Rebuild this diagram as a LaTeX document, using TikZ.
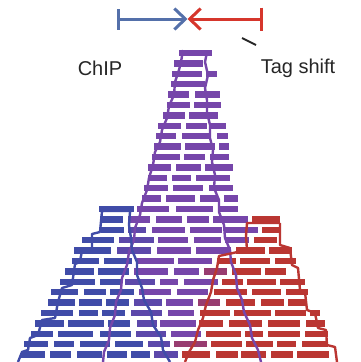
\documentclass[tikz,border=0pt]{standalone}
\usepackage{fontspec}
\setmainfont{Liberation Sans}
\usetikzlibrary{arrows.meta}
\definecolor{cblue}{RGB}{64,76,168}
\definecolor{cpurple}{RGB}{118,70,170}
\definecolor{cred}{RGB}{186,54,50}
\definecolor{cbp}{RGB}{92,72,170}
\definecolor{crp}{RGB}{152,60,112}
\definecolor{ablue}{RGB}{84,112,170}
\definecolor{ared}{RGB}{214,54,44}
\begin{document}
\begin{tikzpicture}[x=1pt,y=-1pt,
  lbl/.style={font=\fontsize{20}{24}\selectfont, text=black!85, inner sep=0pt},
  arr/.style={line width=3pt},
  edgeline/.style={line width=2.4pt, line join=round}]
\useasboundingbox (0,0) rectangle (360,362);
\fill[white] (0,0) rectangle (360,362);
% top arrows
\coordinate (bstart) at (117,19);
\coordinate (mid) at (187.5,19);
\coordinate (rstart) at (263,19);
\draw[arr, ablue, {Bar[width=21pt]}-{Straight Barb[length=11pt,width=21pt]}] (bstart) -- (mid);
\draw[arr, ared, {Straight Barb[length=11pt,width=21pt]}-{Bar[width=23pt]}] (mid) -- (rstart);
\coordinate (tk1) at (242,38);
\coordinate (tk2) at (256,45);
\draw[line width=1.8pt, black!85] (tk1) -- (tk2);
\node[lbl] (chip) at (100,68) {ChIP};
\node[lbl] (tag) at (298,68) {Tag shift};
% bars
\pgfmathsetseed{11}
\foreach \i in {0,...,29}{
  \pgfmathsetmacro{\yy}{53+10.4*\i}
  \pgfmathsetmacro{\pL}{178-0.25*(\yy-53)}
  \pgfmathsetmacro{\pR}{212+0.17*(\yy-53)}
  \pgfmathtruncatemacro{\bA}{\yy>205 ? 1 : 0}
  \pgfmathtruncatemacro{\rA}{\yy>218 ? 1 : 0}
  \pgfmathsetmacro{\bL}{\yy<232 ? 100 : 83-0.53*(\yy-236)}
  \pgfmathsetmacro{\bR}{132+0.26*(\yy-212)}
  \pgfmathsetmacro{\rL}{\yy<252 ? 247 : 217-0.33*(\yy-258)}
  \pgfmathsetmacro{\rR}{\yy<250 ? 280 : 290+0.45*(\yy-250)}
  \pgfmathsetmacro{\uL}{\bA==1 ? min(\pL,\bL) : \pL}
  \pgfmathsetmacro{\uR}{\rA==1 ? max(\pR,\rR) : \pR}
  \pgfmathsetmacro{\xx}{\uL-2+4*rnd}
  \loop
    \pgfmathsetmacro{\blen}{18+20*rnd}
    \pgfmathsetmacro{\xe}{min(\xx+\blen,\uR-1+3*rnd)}
    \pgfmathsetmacro{\xc}{(\xx+\xe)/2}
    \pgfmathtruncatemacro{\inB}{\bA*(\xc>\bL-2)*(\xc<\bR+2)}
    \pgfmathtruncatemacro{\inP}{(\xc>\pL-3)*(\xc<\pR+3)}
    \pgfmathtruncatemacro{\inR}{\rA*(\xc>\rL-2)*(\xc<\rR+2)}
    \pgfmathtruncatemacro{\isR}{\inR*max(1-\inP,\xc>\rL+8)}
    \pgfmathtruncatemacro{\isB}{\inB*max(1-\inP,\xc<\bR-15)}
    \pgfmathtruncatemacro{\cidx}{\isR==1 ? 3 : (\isB==1 ? 1 : (\inP==1 ? (\inB==1 ? 4 : (\inR==1 ? 5 : 2)) : 0))}
    \ifcase\cidx\relax \def\cc{white}\or\def\cc{cblue}\or\def\cc{cpurple}\or\def\cc{cred}\or\def\cc{cbp}\or\def\cc{crp}\fi
    \ifnum\cidx>0 \fill[\cc] (\xx,\yy-3.2) rectangle (\xe,\yy+3.2);\fi
    \pgfmathsetmacro{\xx}{\xe+3.5+3*rnd}
    \pgfmathtruncatemacro{\cont}{\xx<\uR-8 ? 1 : 0}
  \ifnum\cont=1 \repeat
}
% outlines
\draw[edgeline, cpurple] plot coordinates {(183,50) (181,62) (179,70) (175,82) (174,95) (169,106) (167,118) (162,130) (160,142) (155,152) (153,165) (149,178) (147,190) (142,203) (140,215) (135,228) (134,240) (129,252) (127,265) (122,278) (121,290) (116,302) (115,315) (110,328) (109,340) (104,352) (103,362)};
\draw[edgeline, cpurple] plot coordinates {(207,52) (205,62) (208,75) (205,88) (207,100) (207,112) (210,125) (210,138) (213,150) (212,162) (215,175) (214,188) (219,200) (219,212) (224,225) (225,238) (230,250) (231,262) (236,275) (237,288) (242,300) (244,312) (250,325) (252,338) (258,350) (261,362)};
\draw[edgeline, cblue] plot coordinates {(132,211) (102,211) (100,232) (92,234) (92,248) (82,250) (80,262) (75,264) (72,285) (62,288) (58,302) (55,318) (42,320) (38,335) (30,338) (28,350) (22,352) (18,362)};
\draw[edgeline, cblue] plot coordinates {(130,212) (129,225) (131,238) (132,250) (137,262) (137,275) (142,288) (144,300) (151,312) (153,325) (161,337) (163,350) (170,362)};
\draw[edgeline, cred] plot coordinates {(280,223) (247,223) (246,236) (247,250) (219,256) (217,268) (213,280) (211,292) (206,305) (203,318) (198,330) (195,342) (189,352) (185,362)};
\draw[edgeline, cred] plot coordinates {(280,223) (280,245) (290,248) (292,265) (298,268) (300,290) (305,292) (307,310) (315,313) (318,328) (326,330) (327,345) (335,347) (337,362)};
\end{tikzpicture}
\end{document}
